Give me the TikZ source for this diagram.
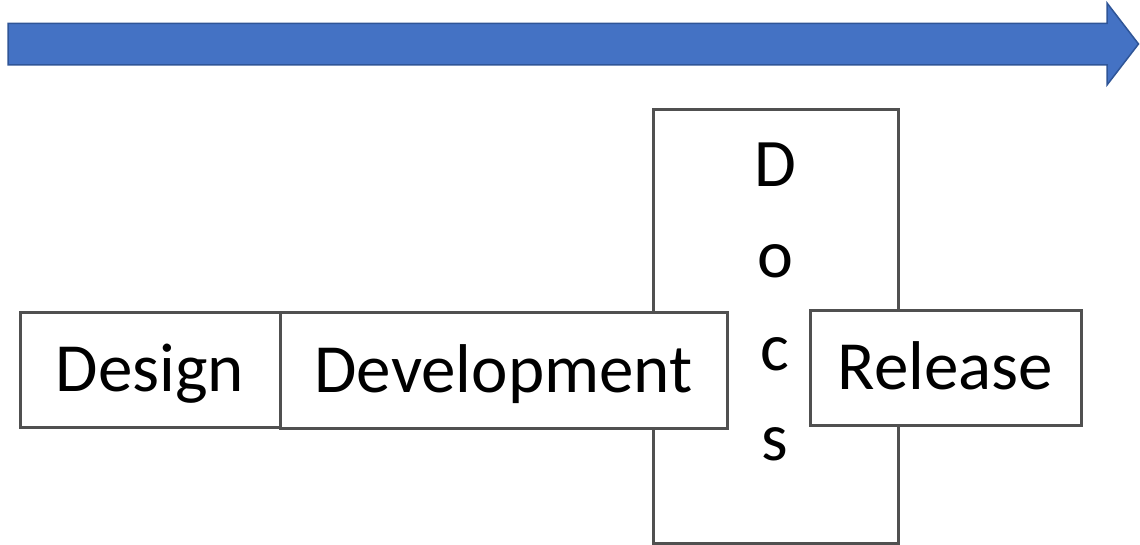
\documentclass[tikz,border=0pt]{standalone}
\usepackage{fontspec}
\setmainfont{Carlito}
\definecolor{arrowfill}{HTML}{4472C4}
\definecolor{arrowline}{HTML}{2F5597}
\definecolor{boxline}{HTML}{505050}
\begin{document}
\begin{tikzpicture}[x=1pt,y=-1pt,
  box/.style={draw=boxline, line width=3pt, fill=white, rectangle, inner sep=0pt,
    font=\fontsize{69}{80}\selectfont, text height=44pt, text depth=0pt},
  letter/.style={anchor=base, inner sep=0pt, font=\fontsize{68}{80}\selectfont}]
\useasboundingbox (0,0) rectangle (1140,545);
% timeline arrow
\draw[fill=arrowfill, draw=arrowline, line width=1.5pt, line join=miter]
  (8,23.5) -- (1107,23.5) -- (1107,3) -- (1138.5,44) -- (1107,85) -- (1107,65) -- (8,65) -- cycle;
% docs box (behind)
\node[box, minimum width=245pt, minimum height=433pt] (docs) at (775.5,326.5) {};
\node[letter] (dD) at (775,187) {D};
\node[letter] (dO) at (775,277) {o};
\node[letter] (dC) at (775,370) {c};
\node[letter] (dS) at (775,460) {s};
% phase boxes
\node[box, minimum width=260pt, minimum height=115pt] (design) at (150,369.5) {Design};
\node[box, minimum width=447pt, minimum height=116pt] (dev) at (503.5,370) {Development};
\node[box, minimum width=271pt, minimum height=115pt] (release) at (945.5,367.5) {Release};
\end{tikzpicture}
\end{document}
